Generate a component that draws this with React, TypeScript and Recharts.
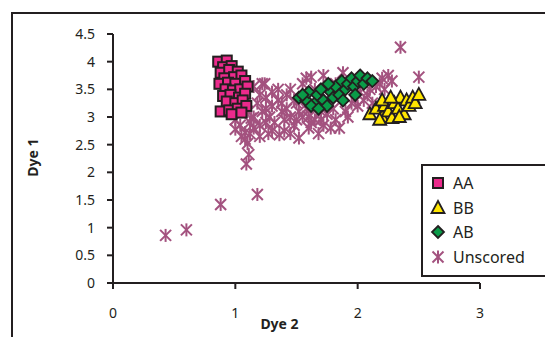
import React from 'react';
import { ScatterChart, Scatter, XAxis, YAxis } from 'recharts';

const xTicks = [0, 1, 2, 3];
const yTicks = [0, 0.5, 1, 1.5, 2, 2.5, 3, 3.5, 4, 4.5];

const aaPoints: [number, number][] = [
  [0.86, 4.0], [0.93, 4.02], [0.9, 3.9], [0.97, 3.92], [0.88, 3.8], [0.95, 3.85], [1.02, 3.82],
  [0.91, 3.7], [0.99, 3.72], [1.05, 3.75], [0.87, 3.6], [0.94, 3.62], [1.0, 3.6], [1.08, 3.65],
  [0.92, 3.5], [0.98, 3.48], [1.04, 3.5], [1.1, 3.55], [0.9, 3.38], [0.96, 3.4], [1.03, 3.35],
  [1.08, 3.42], [0.93, 3.28], [1.0, 3.25], [1.06, 3.3], [0.88, 3.1], [0.95, 3.12], [1.02, 3.15],
  [1.09, 3.2], [0.97, 3.05], [1.05, 3.08],
];

const bbPoints: [number, number][] = [
  [2.1, 3.05], [2.15, 3.15], [2.2, 3.0], [2.22, 3.2], [2.25, 3.1], [2.28, 2.98], [2.3, 3.25],
  [2.33, 3.15], [2.35, 3.35], [2.38, 3.05], [2.4, 3.3], [2.42, 3.2], [2.45, 3.35], [2.47, 3.25],
  [2.5, 3.4], [2.2, 3.3], [2.27, 3.35], [2.34, 3.0], [2.18, 2.95],
];

const abPoints: [number, number][] = [
  [1.52, 3.35], [1.58, 3.3], [1.6, 3.45], [1.65, 3.25], [1.67, 3.4], [1.7, 3.5], [1.72, 3.3],
  [1.75, 3.2], [1.78, 3.45], [1.8, 3.35], [1.82, 3.55], [1.85, 3.4], [1.87, 3.65], [1.9, 3.5],
  [1.92, 3.6], [1.95, 3.7], [1.97, 3.55], [2.0, 3.65], [2.02, 3.75], [2.05, 3.6], [2.08, 3.7],
  [2.12, 3.65], [1.62, 3.2], [1.68, 3.15], [1.76, 3.6], [1.88, 3.3], [1.98, 3.4], [1.55, 3.4],
];

const unscoredPoints: [number, number][] = [
  [0.43, 0.86], [0.6, 0.96], [0.88, 1.42], [1.18, 1.6], [1.09, 2.15], [1.11, 2.32], [1.1, 2.52],
  [1.08, 2.6], [1.0, 2.78], [1.04, 2.85], [1.08, 2.72], [1.12, 2.9], [1.05, 2.65], [1.15, 2.8],
  [1.13, 2.98], [1.2, 2.85], [1.24, 3.6], [1.25, 3.35], [1.3, 3.2], [1.28, 3.0], [1.35, 3.3],
  [1.32, 2.9], [1.38, 3.1], [1.4, 2.75], [1.42, 3.4], [1.45, 3.0], [1.48, 2.85], [1.5, 3.25],
  [1.52, 2.62], [1.36, 2.68], [1.27, 2.7], [1.22, 3.1], [1.18, 3.25], [1.45, 3.5], [1.55, 3.0],
  [1.55, 3.6], [1.58, 3.7], [1.62, 3.72], [1.6, 3.0], [1.65, 2.95], [1.68, 2.7], [1.7, 3.1],
  [1.72, 2.85], [1.75, 3.05], [1.78, 2.8], [1.8, 3.15], [1.82, 2.95], [1.85, 2.8], [1.88, 3.8],
  [1.9, 3.1], [1.92, 3.0], [1.95, 3.25], [1.98, 3.3], [2.0, 3.2], [2.02, 3.45], [2.05, 3.3],
  [2.08, 3.4], [2.1, 3.5], [2.12, 3.25], [2.15, 3.55], [2.18, 3.6], [2.2, 3.7], [2.22, 3.5],
  [2.25, 3.75], [2.28, 3.65], [2.35, 4.26], [2.5, 3.72], [1.65, 3.5], [1.72, 3.75], [1.82, 3.6],
  [1.6, 2.8], [1.58, 3.15], [1.15, 3.55], [1.2, 3.4], [1.22, 3.6], [1.3, 3.45], [1.35, 3.5],
  [1.1, 3.1], [1.15, 3.0], [1.25, 2.9], [1.3, 2.75], [1.4, 2.95], [1.45, 2.7], [1.2, 2.65],
  [1.0, 2.95], [1.12, 2.7], [1.38, 3.25], [1.48, 3.3], [1.52, 3.1], [1.42, 3.15], [1.5, 2.95],
  [1.62, 2.9], [1.7, 2.95], [1.25, 3.15],
];

const toData = (pts: [number, number][]) => pts.map(([x, y]) => ({ x, y }));

const INK = '#231f20';
const PINK = '#ec2a8c';
const YELLOW = '#ffe600';
const GREEN = '#0a9b48';
const MAUVE = '#a3527f';

const SquareShape = (p: any) => (
  <rect x={p.cx - 5} y={p.cy - 5} width={10} height={10} fill={PINK} stroke={INK} strokeWidth={2} />
);
const TriangleShape = (p: any) => (
  <polygon
    points={`${p.cx},${p.cy - 7} ${p.cx + 6.5},${p.cy + 5} ${p.cx - 6.5},${p.cy + 5}`}
    fill={YELLOW}
    stroke={INK}
    strokeWidth={1.8}
    strokeLinejoin="miter"
  />
);
const DiamondShape = (p: any) => (
  <polygon
    points={`${p.cx},${p.cy - 6} ${p.cx + 6},${p.cy} ${p.cx},${p.cy + 6} ${p.cx - 6},${p.cy}`}
    fill={GREEN}
    stroke={INK}
    strokeWidth={1.8}
  />
);
const StarShape = (p: any) => (
  <g stroke={MAUVE} strokeWidth={2}>
    <line x1={p.cx} y1={p.cy - 6.5} x2={p.cx} y2={p.cy + 6.5} />
    <line x1={p.cx - 5.5} y1={p.cy - 5.5} x2={p.cx + 5.5} y2={p.cy + 5.5} />
    <line x1={p.cx + 5.5} y1={p.cy - 5.5} x2={p.cx - 5.5} y2={p.cy + 5.5} />
  </g>
);

const legendItems = [
  { name: 'AA', Shape: SquareShape },
  { name: 'BB', Shape: TriangleShape },
  { name: 'AB', Shape: DiamondShape },
  { name: 'Unscored', Shape: StarShape },
];

const FONT = '"Noto Sans", "Open Sans", sans-serif';

export default function App() {
  return (
    <div style={{ position: 'absolute', left: 0, top: 0, width: 545, height: 337, overflow: 'hidden', background: '#fff', fontFamily: FONT }}>
      <div
        style={{
          position: 'absolute',
          left: 170,
          top: -17,
          width: 230,
          textAlign: 'center',
          fontSize: 20,
          lineHeight: '20px',
          fontWeight: 700,
          color: '#3f8f8f',
          whiteSpace: 'nowrap',
        }}
      >
        CU Customer DNA
      </div>
      <div
        style={{
          position: 'absolute',
          left: 11,
          top: 12,
          width: 700,
          height: 500,
          borderLeft: `2px solid ${INK}`,
          borderTop: `2px solid ${INK}`,
        }}
      />
      <div style={{ position: 'absolute', left: 0, top: 0 }}>
        <ScatterChart width={545} height={337} margin={{ top: 34, right: 65, bottom: 0, left: 53 }}>
          <XAxis
            type="number"
            dataKey="x"
            domain={[0, 3]}
            ticks={xTicks}
            height={54}
            axisLine={{ stroke: INK, strokeWidth: 2 }}
            tickLine={{ stroke: INK, strokeWidth: 2 }}
            tickSize={6}
            tickMargin={19}
            tick={{ fill: INK, fontSize: 14, fontFamily: FONT }}
            label={{
              content: (props: any) => {
                const vb = props.viewBox || {};
                return (
                  <text
                    x={vb.x + vb.width / 2 - 17}
                    y={vb.y + 46}
                    textAnchor="middle"
                    fontSize={14}
                    fontWeight={700}
                    fill={INK}
                    fontFamily={FONT}
                  >
                    Dye 2
                  </text>
                );
              },
            }}
          />
          <YAxis
            type="number"
            dataKey="y"
            domain={[0, 4.5]}
            ticks={yTicks}
            width={60}
            axisLine={{ stroke: INK, strokeWidth: 2 }}
            tickLine={{ stroke: INK, strokeWidth: 2 }}
            tickSize={6}
            tickMargin={12}
            tick={{ fill: INK, fontSize: 14, fontFamily: FONT }}
            tickFormatter={(v: number) => String(v)}
            label={{
              content: (props: any) => {
                const vb = props.viewBox || {};
                const cx = 32;
                const cy = vb.y + vb.height / 2 - 1;
                return (
                  <text
                    x={cx}
                    y={cy}
                    transform={`rotate(-90 ${cx} ${cy})`}
                    textAnchor="middle"
                    dominantBaseline="central"
                    fontSize={14}
                    fontWeight={700}
                    fill={INK}
                    fontFamily={FONT}
                  >
                    Dye 1
                  </text>
                );
              },
            }}
          />
          <Scatter name="Unscored" data={toData(unscoredPoints)} shape={StarShape} isAnimationActive={false} />
          <Scatter name="AB" data={toData(abPoints)} shape={DiamondShape} isAnimationActive={false} />
          <Scatter name="BB" data={toData(bbPoints)} shape={TriangleShape} isAnimationActive={false} />
          <Scatter name="AA" data={toData(aaPoints)} shape={SquareShape} isAnimationActive={false} />
        </ScatterChart>
      </div>
      <div
        style={{
          position: 'absolute',
          left: 421,
          top: 164,
          width: 200,
          height: 109,
          border: `2px solid ${INK}`,
          background: '#fff',
        }}
      >
        {legendItems.map((it, i) => (
          <div key={it.name} style={{ position: 'absolute', left: 0, top: 6 + i * 24.7, height: 22, display: 'flex', alignItems: 'center' }}>
            <svg width={30} height={22} style={{ display: 'block' }}>
              <it.Shape cx={15} cy={11} />
            </svg>
            <span style={{ fontSize: 16, color: INK, marginLeft: 0, lineHeight: '22px' }}>{it.name}</span>
          </div>
        ))}
      </div>
    </div>
  );
}
